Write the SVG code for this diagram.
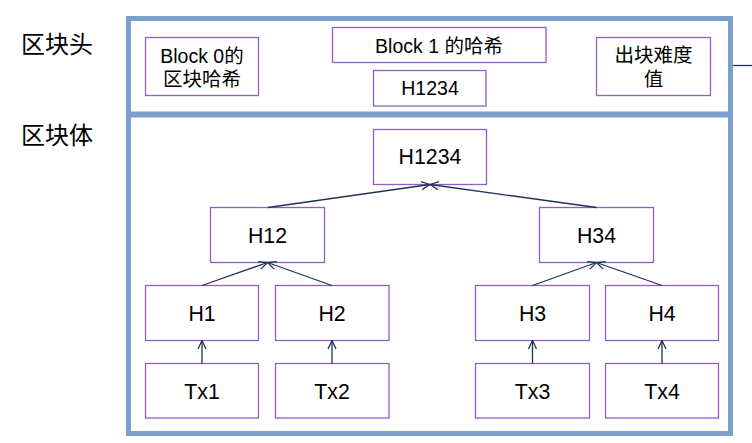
<svg xmlns="http://www.w3.org/2000/svg" width="752" height="443" viewBox="0 0 752 443">
<style>
.frame{fill:none;stroke:#7CA0CD;stroke-width:5}
.box{fill:#fff;stroke:#9060C8;stroke-width:1.3}
.t{font-family:"Liberation Sans","Noto Sans CJK SC",sans-serif;fill:#000;text-anchor:middle}
.h{font-size:19.5px}
.n{font-size:21.3px}
.lbl{font-family:"Noto Sans CJK SC","Liberation Sans",sans-serif;font-size:24px;fill:#000}
.c{fill:none;stroke:#1F3257;stroke-width:1.3}
</style>
<defs>
<marker id="ah" viewBox="0 0 10 10" refX="9.5" refY="5" markerWidth="10" markerHeight="10" markerUnits="userSpaceOnUse" orient="auto">
<path d="M1,1 L9.5,5 L1,9" fill="none" stroke="#1F3257" stroke-width="1.3"/>
</marker>
</defs>
<rect width="752" height="443" fill="#fff"/>
<g id="labels">
<text class="lbl" x="21" y="53">区块头</text>
<text class="lbl" x="21" y="144">区块体</text>
</g>
<g id="frames">
<rect class="frame" x="128.5" y="18.5" width="602" height="95.5"/>
<rect class="frame" x="128.5" y="115" width="602" height="318.5"/>
<line x1="733" y1="65.5" x2="752" y2="65.5" stroke="#1F3257" stroke-width="1.3"/>
</g>
<g id="block0hash"><rect class="box" x="145.5" y="37.5" width="113" height="58"/>
<text class="t h" x="202" y="63">Block 0的</text><text class="t h" x="202" y="85.5">区块哈希</text></g>
<g id="block1hash"><rect class="box" x="332.5" y="27.5" width="213.5" height="35"/>
<text class="t h" x="439" y="52.5">Block 1 的哈希</text></g>
<g id="rootheader"><rect class="box" x="373.5" y="70.5" width="112.5" height="35.5"/>
<text class="t h" x="430" y="95">H1234</text></g>
<g id="difficulty"><rect class="box" x="596.5" y="37.5" width="114" height="58"/>
<text class="t h" x="653.5" y="62">出块难度</text><text class="t h" x="653.5" y="86">值</text></g>
<g id="h1234"><rect class="box" x="373.5" y="129.5" width="113" height="55"/>
<text class="t n" x="430" y="164.3">H1234</text></g>
<g id="h12"><rect class="box" x="210.5" y="207.5" width="114" height="55"/>
<text class="t n" x="267.5" y="243">H12</text></g>
<g id="h34"><rect class="box" x="539.5" y="207.5" width="114" height="55"/>
<text class="t n" x="596.5" y="243">H34</text></g>
<g id="h1"><rect class="box" x="145.5" y="285.5" width="113" height="55"/>
<text class="t n" x="202" y="320.5">H1</text></g>
<g id="h2"><rect class="box" x="275.5" y="285.5" width="113.5" height="55"/>
<text class="t n" x="332" y="320.5">H2</text></g>
<g id="h3"><rect class="box" x="475.5" y="285.5" width="114" height="55"/>
<text class="t n" x="532.5" y="320.5">H3</text></g>
<g id="h4"><rect class="box" x="605.5" y="285.5" width="113" height="55"/>
<text class="t n" x="662" y="320.5">H4</text></g>
<g id="tx1"><rect class="box" x="145.5" y="363.5" width="113" height="54.5"/>
<text class="t n" x="202" y="399.3">Tx1</text></g>
<g id="tx2"><rect class="box" x="275.5" y="363.5" width="113.5" height="54.5"/>
<text class="t n" x="332" y="399.3">Tx2</text></g>
<g id="tx3"><rect class="box" x="475.5" y="363.5" width="114" height="54.5"/>
<text class="t n" x="532.5" y="399.3">Tx3</text></g>
<g id="tx4"><rect class="box" x="605.5" y="363.5" width="113" height="54.5"/>
<text class="t n" x="662" y="399.3">Tx4</text></g>
<g id="connectors">
<line class="c" x1="268" y1="207.5" x2="430" y2="184.5" marker-end="url(#ah)"/>
<line class="c" x1="596.5" y1="207.5" x2="430" y2="184.5" marker-end="url(#ah)"/>
<line class="c" x1="202" y1="285.5" x2="267.5" y2="262.5" marker-end="url(#ah)"/>
<line class="c" x1="332" y1="285.5" x2="267.5" y2="262.5" marker-end="url(#ah)"/>
<line class="c" x1="532.5" y1="285.5" x2="596.5" y2="262.5" marker-end="url(#ah)"/>
<line class="c" x1="662" y1="285.5" x2="596.5" y2="262.5" marker-end="url(#ah)"/>
<line class="c" x1="202" y1="363.5" x2="202" y2="340.5" marker-end="url(#ah)"/>
<line class="c" x1="332" y1="363.5" x2="332" y2="340.5" marker-end="url(#ah)"/>
<line class="c" x1="532.5" y1="363.5" x2="532.5" y2="340.5" marker-end="url(#ah)"/>
<line class="c" x1="662" y1="363.5" x2="662" y2="340.5" marker-end="url(#ah)"/>
</g>
</svg>
